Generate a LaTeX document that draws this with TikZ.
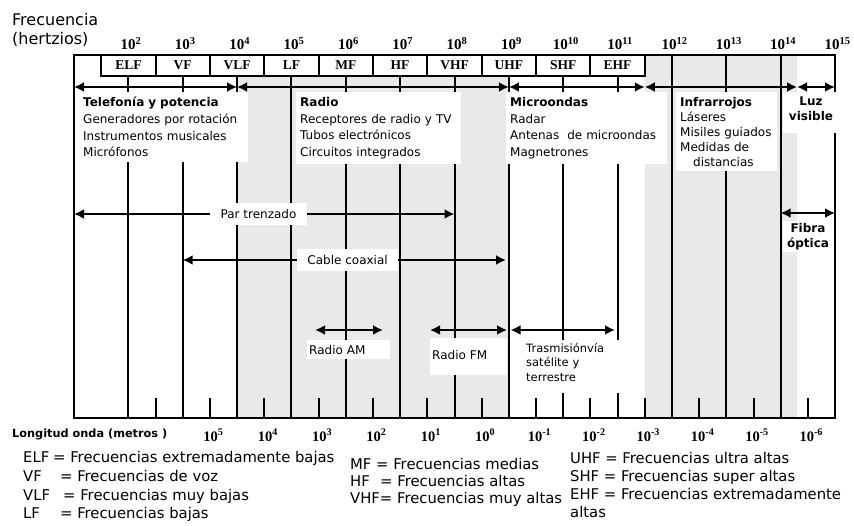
\documentclass[tikz,border=0pt]{standalone}
\usepackage{fontspec}
\setmainfont{DejaVu Sans}
\newfontfamily\numfont{Liberation Serif}
\usetikzlibrary{arrows.meta}

\begin{document}
\begin{tikzpicture}[
  x=1pt, y=-1pt,
  grayzone/.style={fill=gray!17},
  gridline/.style={line width=2pt},
  span/.style={line width=2.6pt, {Latex[length=10pt,width=10pt]}-{Latex[length=10pt,width=10pt]}},
  freq/.style={anchor=base, inner sep=0pt, font=\numfont\bfseries\fontsize{15}{15}\selectfont},
  wave/.style={anchor=base, inner sep=0pt, font=\numfont\bfseries\fontsize{14.5}{14.5}\selectfont},
  band/.style={anchor=base, inner sep=0pt, font=\numfont\bfseries\fontsize{13.5}{13.5}\selectfont},
  textbox/.style={fill=white, anchor=north west, align=left, inner xsep=4pt, inner ysep=5pt, font=\fontsize{12}{16.7}\selectfont},
  cut/.style={fill=white, inner sep=0pt, font=\fontsize{12}{14}\selectfont},
  tag/.style={fill=white, anchor=north west, align=left, inner xsep=2pt, inner ysep=5pt, font=\fontsize{12}{14.5}\selectfont},
  legendline/.style={anchor=base west, inner sep=0pt, font=\fontsize{14.8}{18}\selectfont}
]
  \useasboundingbox (0,0) rectangle (854,526);

  % shaded bands
  \fill[grayzone] (237.1,76) rectangle (508.9,418);
  \fill[grayzone] (644.8,55) rectangle (797,418);

  % frame and band row
  \draw[gridline] (74,55) rectangle (835,418);
  \draw[gridline] (101.2,55) -- (101.2,76) -- (644.8,76) -- (644.8,55);
  \draw[gridline] (155.5,55) -- (155.5,76) (209.9,55) -- (209.9,76) (264.3,55) -- (264.3,76)
    (318.6,55) -- (318.6,76) (373.0,55) -- (373.0,76) (427.3,55) -- (427.3,76)
    (481.7,55) -- (481.7,76) (536.0,55) -- (536.0,76) (590.4,55) -- (590.4,76);

  % decade lines
  \draw[gridline] (128.4,76) -- (128.4,418) (182.7,76) -- (182.7,418) (237.1,76) -- (237.1,418)
    (291.4,76) -- (291.4,418) (345.8,76) -- (345.8,418) (400.1,76) -- (400.1,418)
    (454.5,76) -- (454.5,418) (508.9,76) -- (508.9,418) (563.2,76) -- (563.2,418)
    (617.6,76) -- (617.6,418) (671.9,55) -- (671.9,418) (726.3,55) -- (726.3,418)
    (780.6,55) -- (780.6,418);

  % wavelength ticks
  \draw[gridline] (155.5,398) -- (155.5,418) (209.9,398) -- (209.9,418) (264.3,398) -- (264.3,418)
    (318.6,398) -- (318.6,418) (373.0,398) -- (373.0,418) (427.3,398) -- (427.3,418)
    (481.7,398) -- (481.7,418) (536.0,398) -- (536.0,418) (590.4,398) -- (590.4,418)
    (644.8,398) -- (644.8,418) (699.1,398) -- (699.1,418) (753.5,398) -- (753.5,418)
    (807.8,398) -- (807.8,418);

  % frequency axis
  \node[anchor=base west, inner sep=0pt, text width=100pt, align=left, font=\fontsize{16}{19}\selectfont] (titulo) at (12,26) {Frecuencia\\(hertzios)};
  \node[freq] (f2) at (131,50) {10\textsuperscript{2}};
  \node[freq] (f3) at (185.3,50) {10\textsuperscript{3}};
  \node[freq] (f4) at (239.7,50) {10\textsuperscript{4}};
  \node[freq] (f5) at (294,50) {10\textsuperscript{5}};
  \node[freq] (f6) at (348.4,50) {10\textsuperscript{6}};
  \node[freq] (f7) at (402.7,50) {10\textsuperscript{7}};
  \node[freq] (f8) at (457.1,50) {10\textsuperscript{8}};
  \node[freq] (f9) at (511.5,50) {10\textsuperscript{9}};
  \node[freq] (f10) at (565.8,50) {10\textsuperscript{10}};
  \node[freq] (f11) at (620.2,50) {10\textsuperscript{11}};
  \node[freq] (f12) at (674.5,50) {10\textsuperscript{12}};
  \node[freq] (f13) at (728.9,50) {10\textsuperscript{13}};
  \node[freq] (f14) at (783.2,50) {10\textsuperscript{14}};
  \node[freq] (f15) at (837.6,50) {10\textsuperscript{15}};

  \node[band] (elf) at (128.4,70) {ELF};
  \node[band] (vf) at (182.7,70) {VF};
  \node[band] (vlf) at (237.1,70) {VLF};
  \node[band] (lf) at (291.4,70) {LF};
  \node[band] (mf) at (345.8,70) {MF};
  \node[band] (hf) at (400.1,70) {HF};
  \node[band] (vhf) at (454.5,70) {VHF};
  \node[band] (uhf) at (508.9,70) {UHF};
  \node[band] (shf) at (563.2,70) {SHF};
  \node[band] (ehf) at (617.6,70) {EHF};

  % spectrum ranges
  \coordinate (r0) at (74,87);
  \coordinate (r1) at (237.1,87);
  \coordinate (r2) at (508.9,87);
  \coordinate (r3) at (644.8,87);
  \coordinate (r4) at (797,87);
  \coordinate (r5) at (835,87);
  \draw[span] (r0) -- (r1);
  \draw[span] (r1) -- (r2);
  \draw[span] (r2) -- (r3);
  \draw[span] (r3) -- (r4);
  \draw[span] (r4) -- (r5);

  \node[textbox, inner xsep=6pt, text width=159pt] (telefonia) at (77,92) {\textbf{Telefonía y potencia}\\Generadores por rotación\\Instrumentos musicales\\Micrófonos};
  \node[textbox, text width=157pt] (radio) at (296,92) {\textbf{Radio}\\Receptores de radio y TV\\Tubos electrónicos\\Circuitos integrados};
  \node[textbox, text width=153pt] (microondas) at (506,92) {\textbf{Microondas}\\Radar\\Antenas\ \ de microondas\\Magnetrones};
  \node[textbox, text width=93pt, font=\fontsize{12}{15}\selectfont] (infrarrojos) at (676,92) {\textbf{Infrarrojos}\\Láseres\\Misiles guiados\\Medidas de\\\hspace*{13pt}distancias};
  \node[textbox, anchor=north, align=center, text width=50pt, inner xsep=3pt, text depth=22pt, font=\bfseries\fontsize{12}{15}\selectfont] (luz) at (811,92) {Luz\\visible};

  % transmission media
  \coordinate (pt-l) at (74,214);
  \coordinate (pt-r) at (454.5,214);
  \draw[span] (pt-l) -- node[cut, pos=0.485, minimum width=97pt, minimum height=22pt] (trenzado) {Par trenzado} (pt-r);
  \coordinate (cc-l) at (182.7,260);
  \coordinate (cc-r) at (506,260);
  \draw[span] (cc-l) -- node[cut, pos=0.51, minimum width=101pt, minimum height=22pt] (coaxial) {Cable coaxial} (cc-r);
  \coordinate (fo-l) at (780.6,213);
  \coordinate (fo-r) at (835,213);
  \draw[span] (fo-l) -- (fo-r);
  \node[fill=white, anchor=north, align=center, text width=46pt, inner xsep=2pt, inner ysep=2pt, font=\bfseries\fontsize{12}{15}\selectfont] (fibra) at (808,221) {Fibra\\óptica};

  \coordinate (am-l) at (315,330);
  \coordinate (am-r) at (383,330);
  \draw[span] (am-l) -- (am-r);
  \node[tag, text width=79pt] (am) at (307,340) {Radio AM};
  \coordinate (fm-l) at (430,330);
  \coordinate (fm-r) at (507,330);
  \draw[span] (fm-l) -- (fm-r);
  \node[tag, text width=73pt, inner ysep=12pt, text depth=4pt] (fm) at (430,338) {Radio FM};
  \coordinate (st-l) at (510.5,330);
  \coordinate (st-r) at (615,330);
  \draw[span] (st-l) -- (st-r);
  \node[tag, inner xsep=14pt, inner ysep=3pt, text width=100pt, text depth=38pt, font=\fontsize{11.5}{14.5}\selectfont] (satelite) at (512,340) {Trasmisiónvía\\satélite y\\terrestre};

  % wavelength axis
  \node[anchor=base west, inner sep=0pt, font=\bfseries\fontsize{11.3}{12}\selectfont] (longitud) at (12,437.7) {Longitud onda (metros )};
  \node[wave] (w5) at (213.4,441) {10\textsuperscript{5}};
  \node[wave] (w4) at (267.8,441) {10\textsuperscript{4}};
  \node[wave] (w3) at (322.1,441) {10\textsuperscript{3}};
  \node[wave] (w2) at (376.5,441) {10\textsuperscript{2}};
  \node[wave] (w1) at (430.8,441) {10\textsuperscript{1}};
  \node[wave] (w0) at (485.2,441) {10\textsuperscript{0}};
  \node[wave] (wm1) at (539.5,441) {10\textsuperscript{-1}};
  \node[wave] (wm2) at (593.9,441) {10\textsuperscript{-2}};
  \node[wave] (wm3) at (648.3,441) {10\textsuperscript{-3}};
  \node[wave] (wm4) at (702.6,441) {10\textsuperscript{-4}};
  \node[wave] (wm5) at (757,441) {10\textsuperscript{-5}};
  \node[wave] (wm6) at (811.3,441) {10\textsuperscript{-6}};

  % legend
  \node[legendline] (leg-elf) at (23,462.5) {\makebox[30pt][l]{ELF}= Frecuencias extremadamente bajas};
  \node[legendline] (leg-vf) at (23,481.5) {\makebox[37pt][l]{VF}= Frecuencias de voz};
  \node[legendline] (leg-vlf) at (23,500) {\makebox[40pt][l]{VLF}= Frecuencias muy bajas};
  \node[legendline] (leg-lf) at (23,518) {\makebox[37pt][l]{LF}= Frecuencias bajas};
  \node[legendline] (leg-mf) at (350,469) {\makebox[26pt][l]{MF}= Frecuencias medias};
  \node[legendline] (leg-hf) at (350,486.5) {\makebox[30pt][l]{HF}= Frecuencias altas};
  \node[legendline] (leg-vhf) at (350,503.5) {VHF= Frecuencias muy altas};
  \node[legendline] (leg-uhf) at (570,463.5) {UHF = Frecuencias ultra altas};
  \node[legendline] (leg-shf) at (570,481.5) {SHF = Frecuencias super altas};
  \node[legendline] (leg-ehf) at (570,499.5) {EHF = Frecuencias extremadamente};
  \node[legendline] (leg-altas) at (570,517.5) {altas};
\end{tikzpicture}
\end{document}
